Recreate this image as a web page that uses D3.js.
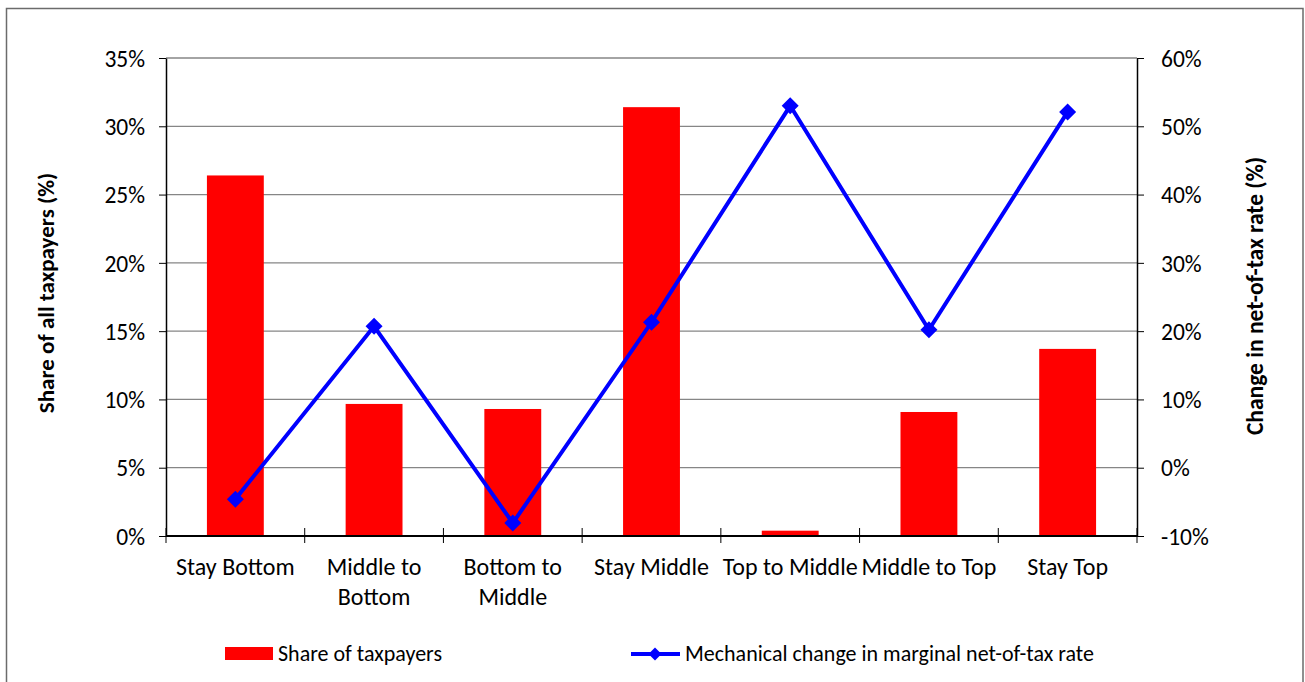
<!DOCTYPE html>
<html><head><meta charset="utf-8">
<script src="https://cdn.jsdelivr.net/npm/d3@7"></script>
<style>
html,body{margin:0;padding:0;background:#fff;}
text{font-family:Carlito,Calibri,Lato,sans-serif;fill:#000;}
</style></head><body>
<svg id="chart" width="1305" height="682"></svg>
<script>
const categories = [["Stay Bottom"],["Middle to","Bottom"],["Bottom to","Middle"],["Stay Middle"],["Top to Middle"],["Middle to Top"],["Stay Top"]];
const shareValues = [26.4, 9.67, 9.3, 31.4, 0.39, 9.08, 13.7];
const changeValues = [-4.6, 20.7, -8.1, 21.3, 53.0, 20.2, 52.1];
const leftTicks = [0,5,10,15,20,25,30,35];
const rightTicks = [-10,0,10,20,30,40,50,60];
const seriesNames = ["Share of taxpayers","Mechanical change in marginal net-of-tax rate"];
const axisTitles = ["Share of all taxpayers (%)","Change in net-of-tax rate (%)"];

const svg = d3.select("#chart");
const L = 166, R = 1137, T = 58, B = 536;

// outer border
svg.append("path").attr("d","M6.5,700 V8.5 H1303 V700").attr("fill","none").attr("stroke","#6b6b6b").attr("stroke-width",1.5);

const x = d3.scaleBand().domain(d3.range(categories.length)).range([L,R]).paddingInner(0.59).paddingOuter(0.295);
const xb = d3.scaleBand().domain(d3.range(categories.length)).range([L,R]);
const yL = d3.scaleLinear().domain([0,35]).range([B,T]);
const yR = d3.scaleLinear().domain([-10,60]).range([B,T]);

// gridlines
svg.append("g").selectAll("line").data(leftTicks.filter(d=>d>0)).join("line")
  .attr("x1",L).attr("x2",R).attr("y1",d=>yL(d)).attr("y2",d=>yL(d))
  .attr("stroke","#868686").attr("stroke-width",1.3);

// bars
svg.append("g").selectAll("rect").data(shareValues).join("rect")
  .attr("x",(d,i)=>x(i)).attr("width",x.bandwidth())
  .attr("y",d=>yL(d)).attr("height",d=>B-yL(d)).attr("fill","#ff0000");

// y axes
const gl = svg.append("g").attr("transform",`translate(${L},0)`)
  .call(d3.axisLeft(yL).tickValues(leftTicks).tickFormat(d=>d+"%").tickSize(7).tickPadding(14).tickSizeOuter(0));
const gr = svg.append("g").attr("transform",`translate(${R},0)`)
  .call(d3.axisRight(yR).tickValues(rightTicks).tickFormat(d=>d+"%").tickSize(7).tickPadding(17).tickSizeOuter(0));
[gl,gr].forEach(g=>{
  g.attr("font-family",null).attr("font-size",null);
  g.select(".domain").attr("stroke","#000").attr("stroke-width",1.5);
  g.selectAll(".tick line").attr("stroke","#000").attr("stroke-width",1);
  g.selectAll(".tick text").style("font-size","23.5px").attr("dy","0.35em");
});

// x axis
const gx = svg.append("g");
gx.append("line").attr("x1",L).attr("x2",R).attr("y1",B).attr("y2",B).attr("stroke","#000").attr("stroke-width",1.8);
gx.selectAll("line.tk").data(d3.range(categories.length+1)).join("line").attr("class","tk")
  .attr("x1",i=>L+i*xb.step()).attr("x2",i=>L+i*xb.step()).attr("y1",B-8).attr("y2",B+7)
  .attr("stroke","#000").attr("stroke-width",1);
gx.selectAll("text").data(categories).join("text")
  .attr("text-anchor","middle").style("font-size","24px")
  .attr("x",(d,i)=>xb(i)+xb.bandwidth()/2).attr("y",575)
  .each(function(d){
    d3.select(this).selectAll("tspan").data(d).join("tspan")
      .attr("x",d3.select(this).attr("x")).attr("dy",(t,j)=>j===0?0:30).text(t=>t);
  });

// line
const line = d3.line().x((d,i)=>xb(i)+xb.bandwidth()/2).y(d=>yR(d));
svg.append("path").datum(changeValues).attr("d",line).attr("fill","none").attr("stroke","#0000ff").attr("stroke-width",4).attr("stroke-linejoin","miter");
const diamond = s => `M0,${-s}L${s},0L0,${s}L${-s},0Z`;
svg.append("g").selectAll("path").data(changeValues).join("path")
  .attr("transform",(d,i)=>`translate(${xb(i)+xb.bandwidth()/2},${yR(d)})`)
  .attr("d",diamond(8.5)).attr("fill","#0000ff");

// axis titles
svg.append("text").attr("transform","translate(54,293) rotate(-90)").attr("text-anchor","middle")
  .style("font-size","23px").style("font-weight","bold").text(axisTitles[0]);
svg.append("text").attr("transform","translate(1263,296) rotate(-90)").attr("text-anchor","middle")
  .style("font-size","23.5px").style("font-weight","bold").text(axisTitles[1]);

// legend
const lg = svg.append("g");
lg.append("rect").attr("x",225).attr("y",647).attr("width",48).attr("height",13).attr("fill","#ff0000");
lg.append("text").attr("x",278).attr("y",661).style("font-size","22px").text(seriesNames[0]);
lg.append("line").attr("x1",631).attr("x2",680).attr("y1",654).attr("y2",654).attr("stroke","#0000ff").attr("stroke-width",4);
lg.append("path").attr("transform","translate(655,654)").attr("d",diamond(6.5)).attr("fill","#0000ff");
lg.append("text").attr("x",685).attr("y",661).style("font-size","22px").text(seriesNames[1]);
</script></body></html>
